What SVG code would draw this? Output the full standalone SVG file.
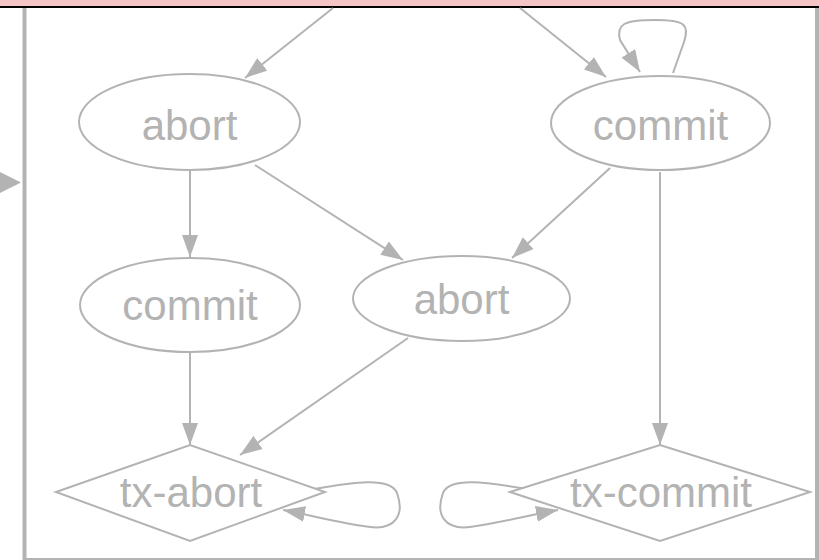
<svg xmlns="http://www.w3.org/2000/svg" width="819" height="560" viewBox="0 0 819 560">
<defs>
<marker id="ah" markerWidth="22" markerHeight="16" refX="22" refY="8" orient="auto" markerUnits="userSpaceOnUse">
<path d="M0,0 L22,8 L0,16 Z" fill="#b3b3b3"/>
</marker>
<style>
.n{fill:#ffffff;stroke:#b3b3b3;stroke-width:2}
.t{font-family:"Liberation Sans",Arial,sans-serif;font-size:42px;fill:#b3b3b3;text-anchor:middle}
.e{fill:none;stroke:#b3b3b3;stroke-width:2;marker-end:url(#ah)}
</style>
</defs>
<rect x="0" y="0" width="819" height="560" fill="#ffffff"/>
<rect x="0" y="0" width="819" height="6" fill="#f5c4c4"/>
<line x1="0" y1="7" x2="819" y2="7" stroke="#000000" stroke-width="2"/>
<line x1="24.5" y1="8" x2="24.5" y2="560" stroke="#b3b3b3" stroke-width="4"/>
<line x1="817" y1="8" x2="817" y2="560" stroke="#b3b3b3" stroke-width="4"/>
<line x1="24" y1="559" x2="817" y2="559" stroke="#b3b3b3" stroke-width="2"/>
<polygon points="0,172 21,182.5 0,193" fill="#b3b3b3"/>
<g id="connectors">
<path class="e" d="M333,8 L245,78"/>
<path class="e" d="M520,8 L606,77"/>
<path class="e" d="M673,73 L684,42 C690,24 684,20 655,20 C624,20 616,24 620,40 L640,72"/>
<path class="e" d="M190,170 L190,257"/>
<path class="e" d="M255,165 L403,260"/>
<path class="e" d="M610,168 L512,258"/>
<path class="e" d="M660,172 L660,445"/>
<path class="e" d="M190,352 L190,445"/>
<path class="e" d="M408,338 L240,455"/>
<path class="e" d="M314,489 C350,483 390,476 397,493 C405,515 395,530 370,527 C340,523 310,515 283,510"/>
<path class="e" d="M527,489 C490,483 450,476 443,493 C435,515 445,530 470,527 C500,523 530,515 558,510"/>
</g>
<g id="abort1"><ellipse class="n" cx="189.5" cy="122" rx="110.5" ry="48"/><text class="t" x="189.5" y="140">abort</text></g>
<g id="commit1"><ellipse class="n" cx="660.5" cy="123" rx="109.5" ry="47"/><text class="t" x="660.5" y="140">commit</text></g>
<g id="commit2"><ellipse class="n" cx="190" cy="305" rx="110" ry="47"/><text class="t" x="190" y="320">commit</text></g>
<g id="abort2"><ellipse class="n" cx="461.5" cy="298.5" rx="108.5" ry="42.5"/><text class="t" x="461.5" y="314">abort</text></g>
<g id="tx-abort"><polygon class="n" points="56,492 190,445 325,492 190,541"/><text class="t" x="191" y="507">tx-abort</text></g>
<g id="tx-commit"><polygon class="n" points="510,492 660,445 810,492 660,541"/><text class="t" x="661" y="507">tx-commit</text></g>
</svg>
